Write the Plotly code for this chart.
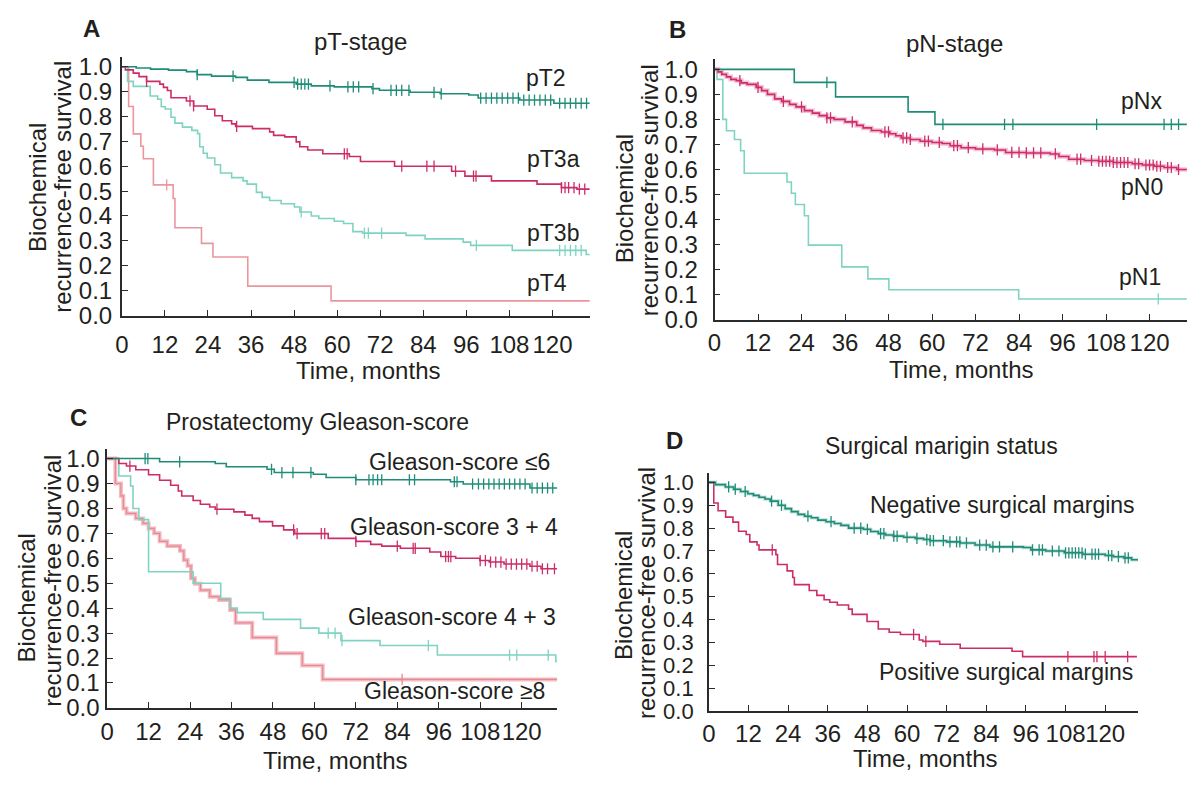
import numpy as np
import plotly.graph_objects as go

W, H = 1187, 788
TEAL = "#1f8c78"
MAGENTA = "#cc2d68"
AQUA = "#7fd4c1"
PINK = "#eb969d"
TXT = "#231f20"
FONT = "Liberation Sans, Arial, sans-serif"

x_ticks = [0, 12, 24, 36, 48, 60, 72, 84, 96, 108, 120]
y_ticks = [0.0, 0.1, 0.2, 0.3, 0.4, 0.5, 0.6, 0.7, 0.8, 0.9, 1.0]
y_tick_labels = ["0.0", "0.1", "0.2", "0.3", "0.4", "0.5", "0.6", "0.7", "0.8", "0.9", "1.0"]

# ---------------- Panel A: pT-stage ----------------
pT2_t = [0, 4, 8, 13, 18, 21, 25, 31.7, 35, 41, 48.6, 52.8, 59.2, 69.7, 71.8, 80.3, 88.7, 96.7, 99.3, 110.9, 120.4, 130.4]
pT2_s = [1.0, 0.995, 0.99, 0.986, 0.98, 0.968, 0.962, 0.957, 0.946, 0.937, 0.93, 0.923, 0.919, 0.912, 0.905, 0.897, 0.891, 0.886, 0.874, 0.866, 0.853, 0.853]
pT2_c = [21, 31, 48, 49, 50, 51, 52, 58, 63, 64.5, 66, 70, 75, 76.5, 78, 80, 87, 89, 100, 101.5, 103, 104.5, 106, 107.5, 109,
         110.5, 112, 113.5, 115, 116.5, 118, 119.5, 122, 123.5, 125, 126.5, 128, 129.5]

pT3a_t = [0, 1, 3.2, 4.8, 6.9, 10.6, 11.6, 12.7, 13.7, 18, 20, 23.8, 25.9, 28, 30.6, 31.7, 36.4, 41.2, 42.3, 45.4, 48.6, 49.6,
          51.8, 56, 63.4, 66.5, 76, 91.9, 95.6, 103, 115.7, 122.5, 126.8, 130.4]
pT3a_s = [1.0, 0.987, 0.974, 0.96, 0.941, 0.93, 0.917, 0.904, 0.875, 0.862, 0.842, 0.829, 0.803, 0.783, 0.77, 0.76, 0.751, 0.738,
          0.724, 0.718, 0.698, 0.678, 0.665, 0.65, 0.639, 0.619, 0.6, 0.58, 0.56, 0.541, 0.528, 0.514, 0.508, 0.508]
pT3a_c = [6.9, 19, 20, 32, 62, 62.8, 78, 85, 87, 93, 98, 98.7, 122.5, 123.5, 124.5, 126, 127.5, 129]

pT3b_t = [0, 1.6, 3.2, 7.9, 10, 11, 12.1, 13.7, 14.8, 16.9, 19.5, 21.1, 21.7, 22.7, 23.8, 25.9, 27.5, 30.6, 33.8, 34.9, 37.5,
          39.1, 41.2, 44.4, 48.1, 49.6, 52.8, 54.9, 59.2, 61.8, 64.4, 67.1, 79.2, 84.5, 95.1, 97.2, 108.8, 129.4, 130.4]
pT3b_s = [1.0, 0.941, 0.921, 0.882, 0.869, 0.839, 0.83, 0.797, 0.773, 0.757, 0.744, 0.731, 0.678, 0.652, 0.633, 0.606, 0.573,
          0.554, 0.541, 0.528, 0.495, 0.475, 0.462, 0.449, 0.436, 0.416, 0.4, 0.39, 0.379, 0.37, 0.337, 0.331, 0.322, 0.308,
          0.295, 0.282, 0.262, 0.245, 0.245]
pT3b_c = [50, 67.6, 68.7, 72.4, 98.8, 122, 123.5, 125, 126.5, 128]

pT4_t = [0, 1.9, 3.2, 5.3, 6, 8.8, 14.3, 14.8, 22.2, 25.4, 35.1, 58.3, 130.4]
pT4_s = [1.0, 0.84, 0.73, 0.68, 0.63, 0.525, 0.47, 0.353, 0.29, 0.235, 0.118, 0.059, 0.059]
pT4_c = [12.5]

# ---------------- Panel B: pN-stage ----------------
pNx_t = [0, 22, 33.4, 53.4, 60.8, 130.3]
pNx_s = [1.0, 0.948, 0.89, 0.83, 0.78, 0.78]
pNx_c = [31, 63, 80, 82.3, 105.4, 124, 126, 128]

pN0_t = [0, 1, 2, 3.3, 4.5, 6, 7.4, 9, 11.5, 13, 14.6, 16.6, 18.5, 20.7, 22.5, 24.8, 27, 28.9, 31, 33, 36, 39.2, 41, 43.3,
         46, 48.4, 50, 51.5, 54, 56.7, 60, 62.8, 65, 68, 72, 77.2, 80.3, 86, 92.6, 95, 97.7, 102, 105.9, 110, 115.2, 118,
         121.3, 124, 127.5, 130.3]
pN0_s = [1.0, 0.99, 0.98, 0.97, 0.96, 0.955, 0.946, 0.94, 0.928, 0.915, 0.9, 0.882, 0.872, 0.86, 0.85, 0.835, 0.825, 0.815,
         0.806, 0.8, 0.79, 0.776, 0.766, 0.756, 0.75, 0.743, 0.735, 0.726, 0.72, 0.713, 0.708, 0.704, 0.695, 0.687, 0.682,
         0.678, 0.668, 0.666, 0.662, 0.652, 0.641, 0.636, 0.633, 0.628, 0.623, 0.618, 0.613, 0.608, 0.6, 0.6]
pN0_c = [7, 12, 19, 24, 31, 32, 38, 47, 48, 52, 53, 54, 58, 59, 62, 66, 67, 70, 74, 78, 82, 84, 86, 88, 90, 94, 100, 101,
         104, 106, 107, 108, 109, 110, 111, 112, 113, 114, 116, 117, 119, 120, 121, 122, 123, 125, 126, 128]

pN1_t = [0, 0.7, 2.3, 3.3, 5.5, 7.2, 8.2, 20, 21.2, 22.3, 24.8, 25.9, 35.1, 42.3, 48.1, 83.9, 130.3]
pN1_s = [1.0, 0.96, 0.8, 0.755, 0.72, 0.675, 0.585, 0.55, 0.505, 0.46, 0.415, 0.298, 0.211, 0.163, 0.12, 0.083, 0.083]
pN1_c = [122.4]

# ---------------- Panel C: Gleason-score ----------------
G6_t = [0, 15.2, 31.3, 34.5, 46.3, 48.4, 59.7, 63.4, 72, 99.4, 103.1, 122.4, 130.3]
G6_s = [1.0, 0.987, 0.98, 0.967, 0.957, 0.944, 0.937, 0.924, 0.915, 0.907, 0.898, 0.882, 0.882]
G6_c = [11, 11.8, 21, 47.6, 50.6, 53.8, 59, 72, 75.8, 77, 78.3, 79.5, 87.5, 89, 100.5, 101.3, 105.8, 107.5, 109, 110.5,
        112, 113.5, 115, 116.5, 118, 119.5, 121, 123, 124.5, 126, 127.5, 129]

G34_t = [0, 3.4, 5.6, 8.3, 12, 15.2, 18.4, 20.6, 21.6, 24.9, 27, 29.7, 31.3, 36.7, 39.9, 42, 44.1, 47.9, 51.1, 54.3, 64,
         72, 76.3, 79.5, 84.9, 93.4, 96.6, 100.9, 107.9, 110.6, 114.9, 122.4, 125.6, 130.3]
G34_s = [1.0, 0.98, 0.97, 0.955, 0.935, 0.913, 0.893, 0.87, 0.85, 0.832, 0.817, 0.806, 0.797, 0.786, 0.773, 0.76, 0.747,
         0.73, 0.714, 0.699, 0.68, 0.668, 0.656, 0.649, 0.64, 0.625, 0.607, 0.6, 0.591, 0.585, 0.577, 0.568, 0.558, 0.558]
G34_c = [6.6, 31.8, 54, 55, 62, 63, 72, 84, 88.6, 89.2, 98, 98.8, 99.5, 108, 109.5, 111, 112.5, 114, 115.5, 117, 118.5,
         120, 121.5, 123, 124.5, 126, 127.5, 129.5]

G43_t = [0, 3.4, 6.8, 7.5, 9.2, 12, 24.9, 32.9, 35.6, 37.7, 45.2, 56, 61.3, 67.7, 79, 95.6, 129.9, 130.3]
G43_s = [1.0, 0.93, 0.89, 0.8, 0.755, 0.546, 0.5, 0.44, 0.4, 0.382, 0.355, 0.32, 0.3, 0.27, 0.25, 0.212, 0.186, 0.186]
G43_c = [64, 66, 68, 93, 116.5, 118.6, 127.7]

G8_t = [0, 2.4, 4, 4.7, 5.6, 8.3, 10.4, 12, 13.6, 15.2, 17.4, 21.1, 22.2, 23.3, 24.3, 25.4, 27, 29.7, 32.4, 35.6, 37.2,
        42, 49, 56.5, 62.4, 130.3]
G8_s = [1.0, 0.9, 0.85, 0.8, 0.78, 0.76, 0.74, 0.72, 0.7, 0.668, 0.649, 0.63, 0.593, 0.57, 0.52, 0.498, 0.472, 0.446,
        0.433, 0.393, 0.341, 0.282, 0.219, 0.17, 0.114, 0.114]
G8_c = [85.4]

# ---------------- Panel D: Surgical margin status ----------------
Neg_t = [0, 2, 5, 7.5, 9.6, 11.8, 13.5, 15.2, 17, 18.6, 21, 23.1, 25, 27, 29, 31, 33, 35.5, 38, 40, 42.3, 46.8, 49,
         51.3, 53.5, 55.8, 59, 62.5, 65, 67, 72, 76.1, 80.6, 85.1, 95.2, 97.5, 102, 107.6, 113.2, 120, 122.5, 125.6, 128, 129.9]
Neg_s = [1.0, 0.99, 0.98, 0.97, 0.96, 0.95, 0.943, 0.935, 0.927, 0.918, 0.9, 0.885, 0.872, 0.86, 0.852, 0.845, 0.835,
         0.828, 0.82, 0.812, 0.8, 0.795, 0.785, 0.776, 0.77, 0.765, 0.76, 0.755, 0.75, 0.745, 0.74, 0.735, 0.726, 0.718,
         0.715, 0.705, 0.7, 0.692, 0.686, 0.68, 0.675, 0.67, 0.662, 0.657]
Neg_c = [6, 8, 11, 19, 22, 30, 37, 44, 46, 48, 52, 53, 56, 57, 60, 63, 66, 67, 68, 71, 73, 75, 76, 78, 82, 84, 86, 88, 92,
         98, 100, 101, 104, 106, 108, 109, 110, 111, 112, 113, 114, 116, 117, 118, 121, 122, 124, 126, 127]

Pos_t = [0, 1.5, 2.8, 5.1, 7.3, 9, 11.3, 12.4, 14.6, 15.2, 20.3, 20.8, 23.7, 25.4, 25.9, 30.4, 32.7, 34.9, 36.6, 38.9,
         42.3, 43.4, 47.9, 51.3, 54.6, 58, 63.7, 64.8, 69.9, 76.1, 91.8, 95, 129.6]
Pos_s = [1.0, 0.91, 0.876, 0.848, 0.826, 0.786, 0.772, 0.74, 0.726, 0.705, 0.684, 0.641, 0.613, 0.584, 0.553, 0.527,
         0.506, 0.487, 0.476, 0.464, 0.446, 0.423, 0.392, 0.359, 0.345, 0.335, 0.311, 0.305, 0.292, 0.275, 0.262, 0.238, 0.238]
Pos_c = [19.2, 62, 65.7, 108.7, 116.6, 117.5, 120, 126.8]

# ---------------- layout geometry (pixels) ----------------
panels = {
    "A": dict(x0=115.5, xs=3.61, xmax=130.4, y0=319.0, ys=254.0),
    "B": dict(x0=711.7, xs=3.647, xmax=130.3, y0=323.3, ys=255.6),
    "C": dict(x0=100.7, xs=3.475, xmax=130.3, y0=719.5, ys=254.5),
    "D": dict(x0=706.0, xs=3.3225, xmax=129.9, y0=722.8, ys=233.5),
}
YMAX = 1.04

fig = go.Figure()


def surv_at(t, s, c):
    t = np.asarray(t)
    s = np.asarray(s)
    idx = np.searchsorted(t, np.asarray(c), side="right") - 1
    return s[idx]


def add_curve(ax, t, s, c, color, width=1.6, halo=None):
    assert len(t) == len(s)
    xa, ya = "x" + ax, "y" + ax
    if halo:
        fig.add_trace(go.Scatter(x=t, y=s, mode="lines", line=dict(shape="hv", color=halo[0], width=halo[1]),
                                 xaxis=xa, yaxis=ya, showlegend=False, hoverinfo="skip"))
    fig.add_trace(go.Scatter(x=t, y=s, mode="lines", line=dict(shape="hv", color=color, width=width),
                             xaxis=xa, yaxis=ya, showlegend=False))
    if c:
        fig.add_trace(go.Scatter(x=c, y=surv_at(t, s, c), mode="markers",
                                 marker=dict(symbol="line-ns", size=8, line=dict(color=color, width=1.3)),
                                 xaxis=xa, yaxis=ya, showlegend=False))


add_curve("", pT4_t, pT4_s, pT4_c, PINK)
add_curve("", pT3b_t, pT3b_s, pT3b_c, AQUA)
add_curve("", pT3a_t, pT3a_s, pT3a_c, MAGENTA)
add_curve("", pT2_t, pT2_s, pT2_c, TEAL)

add_curve("2", pN1_t, pN1_s, pN1_c, AQUA)
add_curve("2", pN0_t, pN0_s, pN0_c, MAGENTA, halo=("rgba(230,120,160,0.45)", 4.5))
add_curve("2", pNx_t, pNx_s, pNx_c, TEAL)

add_curve("3", G8_t, G8_s, G8_c, "#e58a92", width=1.2, halo=("rgba(240,160,168,0.7)", 4))
add_curve("3", G43_t, G43_s, G43_c, AQUA)
add_curve("3", G34_t, G34_s, G34_c, MAGENTA)
add_curve("3", G6_t, G6_s, G6_c, TEAL)

add_curve("4", Pos_t, Pos_s, Pos_c, MAGENTA)
add_curve("4", Neg_t, Neg_s, Neg_c, TEAL, halo=("rgba(80,170,150,0.35)", 3.5))

axis_ids = {"A": ("xaxis", "yaxis"), "B": ("xaxis2", "yaxis2"), "C": ("xaxis3", "yaxis3"), "D": ("xaxis4", "yaxis4")}
suffix = {"A": "", "B": "2", "C": "3", "D": "4"}
x_standoff = {"A": 7, "B": 1, "C": 2, "D": 0}
y_standoff = {"A": 3, "B": 10, "C": 1, "D": 9}
y_font = {"A": 24, "B": 24, "C": 24, "D": 22}
layout_axes = {}
for k, p in panels.items():
    xid, yid = axis_ids[k]
    x1 = p["x0"] + p["xmax"] * p["xs"]
    ytop = p["y0"] - YMAX * p["ys"]
    common = dict(showline=True, linecolor="#2b2b2b", linewidth=1.6, ticks="inside", ticklen=6, tickwidth=1.4,
                  tickcolor="#2b2b2b", showgrid=False, zeroline=False, tickangle=0)
    layout_axes[xid] = dict(domain=[p["x0"] / W, min(x1 / W, 1.0)], range=[0, p["xmax"]], tickvals=x_ticks,
                            anchor="y" + suffix[k], ticklabelstandoff=x_standoff[k],
                            tickfont=dict(family=FONT, size=24, color=TXT), **common)
    layout_axes[yid] = dict(domain=[1 - p["y0"] / H, 1 - ytop / H], range=[0, YMAX], tickvals=y_ticks,
                            ticktext=y_tick_labels, anchor="x" + suffix[k], ticklabelstandoff=y_standoff[k],
                            tickfont=dict(family=FONT, size=y_font[k], color=TXT), **common)

ann = []


def txt(x, y, s, size=23, bold=False, xanchor="center", angle=0):
    ann.append(dict(x=x / W, y=1 - y / H, xref="paper", yref="paper", text=("<b>%s</b>" % s) if bold else s,
                    showarrow=False, xanchor=xanchor, yanchor="middle", textangle=angle,
                    font=dict(family=FONT, size=size, color=TXT)))


# panel letters and titles
txt(84.6, 26, "A", size=24, bold=True)
txt(355.7, 39.5, "pT-stage", size=24)
txt(674, 27.5, "B", size=24, bold=True)
txt(953, 41, "pN-stage", size=24)
txt(71.6, 422.7, "C", size=24, bold=True)
txt(312.6, 428, "Prostatectomy Gleason-score", size=23)
txt(671, 446.3, "D", size=24, bold=True)
txt(940, 452, "Surgical marigin status", size=23)

# curve labels
txt(520, 77, "pT2", xanchor="left")
txt(521, 159.5, "pT3a", xanchor="left")
txt(521, 234.7, "pT3b", xanchor="left")
txt(521, 286, "pT4", xanchor="left")
txt(1118.7, 99.7, "pNx", xanchor="left")
txt(1118.7, 188, "pN0", xanchor="left")
txt(1116.8, 279.7, "pN1", xanchor="left")
txt(361.9, 468.5, "Gleason-score ≤6", xanchor="left")
txt(343.3, 535, "Gleason-score 3 + 4", xanchor="left")
txt(341.5, 627, "Gleason-score 4 + 3", xanchor="left")
txt(357.4, 702.7, "Gleason-score ≥8", xanchor="left")
txt(865.9, 512.7, "Negative surgical margins", xanchor="left")
txt(875.6, 682.7, "Positive surgical margins", xanchor="left")

# axis titles
for (cx, cy) in [(363, 375), (959.5, 374.5), (330, 773.5), (923, 771)]:
    txt(cx, cy, "Time, months", size=24)
for (bx, rx, by, ry) in [(30, 56, 188, 188), (622, 646, 200, 191), (20, 45, 607, 590), (620, 644, 605, 602)]:
    txt(bx, by, "Biochemical", size=24, angle=-90)
    txt(rx, ry, "recurrence-free survival", size=24, angle=-90)

fig.update_layout(width=W, height=H, margin=dict(l=0, r=0, t=0, b=0), paper_bgcolor="white", plot_bgcolor="white",
                  showlegend=False, annotations=ann, **layout_axes)
fig.write_html("out.html")
